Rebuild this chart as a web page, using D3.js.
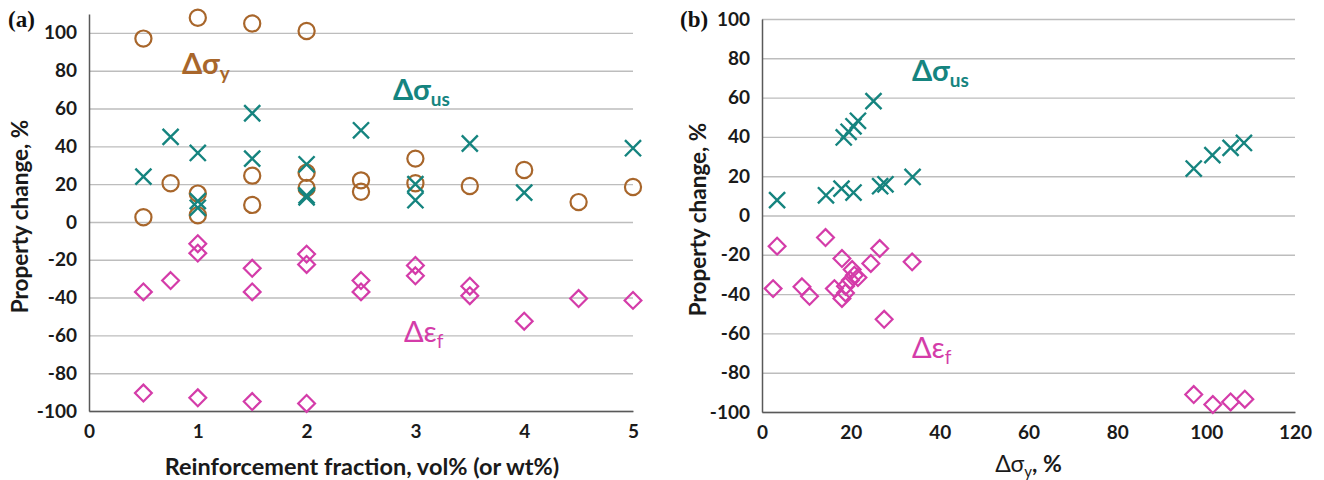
<!DOCTYPE html>
<html>
<head>
<meta charset="utf-8">
<script src="https://cdn.jsdelivr.net/npm/d3@7"></script>
<style>
  body { margin: 0; background: #fff; }
  svg { font-family: Lato, "Open Sans", sans-serif; }
</style>
</head>
<body>
<div class="chart"></div>
<script>
// Panel (a): property change vs reinforcement fraction
const aSyFrac = [0.5, 0.5, 0.75, 1, 1, 1, 1.5, 1.5, 1.5, 2, 2, 2, 2.5, 2.5, 3, 3, 3.5, 4, 4.5, 5];
const aSy     = [97, 2.5, 20.5, 108, 15, 3.5, 105, 24.5, 9, 101, 26, 18, 22, 16, 33.5, 20.5, 19, 27.5, 10.5, 18.5];
const aSusFrac = [0.5, 0.75, 1, 1, 1, 1.5, 1.5, 2, 2, 2, 2.5, 3, 3, 3.5, 4, 5];
const aSus     = [24, 45, 36.5, 11, 7.5, 57.5, 33.5, 30.5, 14, 13, 48.5, 20, 11.5, 41.5, 15.5, 39];
const aEfFrac = [0.5, 0.5, 0.75, 1, 1, 1, 1.5, 1.5, 1.5, 2, 2, 2, 2.5, 2.5, 3, 3, 3.5, 3.5, 4, 4.5, 5];
const aEf     = [-37, -90.5, -31, -11.5, -16.5, -93, -24.5, -37, -95, -17, -22.5, -96, -31, -37, -23, -28.5, -34, -39, -52.5, -40.5, -41.5];

// Panel (b): property change vs yield strength change
const bSusX = [3.4, 14.4, 17.9, 20.6, 26.6, 27.8, 33.9, 18.4, 19.5, 20.6, 21.6, 25.1, 97.2, 101.4, 105.5, 108.5];
const bSus  = [7.8, 10.3, 13.7, 11.7, 14.9, 15.9, 19.6, 39.7, 42.6, 45.4, 48.2, 58.2, 23.9, 30.7, 34.4, 36.9];
const bEfX = [2.5, 3.4, 9.0, 10.7, 14.3, 16.3, 18.0, 18.0, 18.8, 18.8, 19.9, 20.3, 20.8, 21.6, 24.5, 26.5, 27.5, 33.8, 97.2, 101.5, 105.5, 108.7];
const bEf  = [-37.2, -15.6, -36.3, -41.1, -11.2, -37.2, -21.9, -42.2, -39.4, -36.0, -32.9, -27.5, -30.4, -31.6, -24.4, -16.8, -52.8, -23.6, -91.1, -96.2, -94.9, -93.5];

const yTicks = [-100, -80, -60, -40, -20, 0, 20, 40, 60, 80, 100];
const aXTicks = [0, 1, 2, 3, 4, 5];
const bXTicks = [0, 20, 40, 60, 80, 100, 120];

const width = 1324;
const height = 480;
const brown = '#A8662B';
const teal = '#15847F';
const magenta = '#D43CA9';
const plain = d => String(d);

const svg = d3.select('.chart').append('svg')
    .attr('width', width)
    .attr('height', height);

const zip = (xs, ys) => xs.map((x, i) => [x, ys[i]]);

function panel(opts) {
    const {x, y, xTicks, letter, letterX} = opts;
    const g = svg.append('g');

    // gridlines
    g.append('g')
        .attr('transform', `translate(${x.range()[0]},0)`)
        .call(d3.axisLeft(y).tickValues(yTicks).tickSize(-(x.range()[1] - x.range()[0])).tickFormat(''))
        .call(a => a.select('.domain').remove())
        .call(a => a.selectAll('.tick line').attr('stroke', '#BDBDBD').attr('stroke-width', 1.4));

    // y axis
    g.append('g')
        .attr('transform', `translate(${x.range()[0]},0)`)
        .call(d3.axisLeft(y).tickValues(yTicks).tickFormat(plain).tickSize(0).tickPadding(12))
        .call(a => a.select('.domain').attr('stroke', '#595959').attr('stroke-width', 1.5))
        .call(a => a.selectAll('text')
            .attr('font-family', 'Lato, sans-serif')
            .attr('font-size', 19)
            .attr('font-weight', 'bold')
            .attr('fill', '#1a1a1a'));

    // x axis
    g.append('g')
        .attr('transform', `translate(0,${y(-100)})`)
        .call(d3.axisBottom(x).tickValues(xTicks).tickFormat(plain).tickSize(0).tickPadding(14))
        .call(a => a.select('.domain').attr('stroke', '#595959').attr('stroke-width', 1.5))
        .call(a => a.selectAll('text')
            .attr('font-family', 'Lato, sans-serif')
            .attr('font-size', 19)
            .attr('font-weight', 'bold')
            .attr('fill', '#1a1a1a'));

    // y title
    const yc = (y.range()[0] + y.range()[1]) / 2 + 4;
    g.append('text')
        .attr('transform', `translate(${opts.yTitleX},${yc}) rotate(-90)`)
        .attr('text-anchor', 'middle')
        .attr('font-size', 22.5)
        .attr('font-weight', 'bold')
        .attr('fill', '#1a1a1a')
        .text('Property change, %');

    // panel letter
    g.append('text')
        .attr('x', letterX)
        .attr('y', 27)
        .attr('font-family', '"Liberation Serif", "DejaVu Serif", serif')
        .attr('font-size', 23)
        .attr('font-weight', 'bold')
        .attr('fill', '#111')
        .text(letter);

    return g;
}

function drawPoints(g, x, y, pts, type, color) {
    const sym = {
        circle: d3.symbol(d3.symbolCircle, 205),
        times: d3.symbol(d3.symbolTimes, 170),
        diamond: d3.symbol(d3.symbolDiamond2, 180)
    }[type];
    g.append('g')
        .selectAll('path')
        .data(pts)
        .join('path')
            .attr('transform', d => `translate(${x(d[0])},${y(d[1])})`)
            .attr('d', sym)
            .attr('fill', 'none')
            .attr('stroke', color)
            .attr('stroke-width', type === 'times' ? 2.4 : 2.2);
}

function label(g, px, py, main, sub, color, weight) {
    const t = g.append('text')
        .attr('x', px)
        .attr('y', py)
        .attr('fill', color)
        .attr('font-weight', weight)
        .attr('font-size', 29);
    t.append('tspan').text(main);
    t.append('tspan').attr('font-size', 19).attr('dy', 6).text(sub);
}

// Panel (a)
const xA = d3.scaleLinear().domain([0, 5]).range([89, 633]);
const yA = d3.scaleLinear().domain([-100, 110]).range([411, 14]);
const gA = panel({x: xA, y: yA, xTicks: aXTicks, letter: '(a)', letterX: 8, yTitleX: 28});

drawPoints(gA, xA, yA, zip(aSyFrac, aSy), 'circle', brown);
drawPoints(gA, xA, yA, zip(aSusFrac, aSus), 'times', teal);
drawPoints(gA, xA, yA, zip(aEfFrac, aEf), 'diamond', magenta);

label(gA, 182, 74, 'Δσ', 'y', brown, 'bold');
label(gA, 393, 100, 'Δσ', 'us', teal, 'bold');
label(gA, 404, 342, 'Δε', 'f', magenta, 'normal');

gA.append('text')
    .attr('x', (xA.range()[0] + xA.range()[1]) / 2 + 1)
    .attr('y', 475)
    .attr('text-anchor', 'middle')
    .attr('font-size', 23.5)
    .attr('font-weight', 'bold')
    .attr('fill', '#1a1a1a')
    .text('Reinforcement fraction, vol% (or wt%)');

// Panel (b)
const xB = d3.scaleLinear().domain([0, 120]).range([762, 1295]);
const yB = d3.scaleLinear().domain([-100, 100]).range([412, 19]);
const gB = panel({x: xB, y: yB, xTicks: bXTicks, letter: '(b)', letterX: 680, yTitleX: 706});

drawPoints(gB, xB, yB, zip(bSusX, bSus), 'times', teal);
drawPoints(gB, xB, yB, zip(bEfX, bEf), 'diamond', magenta);

label(gB, 912, 81, 'Δσ', 'us', teal, 'bold');
label(gB, 912, 358, 'Δε', 'f', magenta, 'normal');

const xt = gB.append('text')
    .attr('x', (xB.range()[0] + xB.range()[1]) / 2)
    .attr('y', 472)
    .attr('text-anchor', 'middle')
    .attr('font-size', 23)
    .attr('fill', '#1a1a1a');
xt.append('tspan').text('Δσ');
xt.append('tspan').attr('font-size', 15).attr('dy', 5).text('y');
xt.append('tspan').attr('dy', -5).attr('font-weight', 'bold').text(', %');
</script>
</body>
</html>
